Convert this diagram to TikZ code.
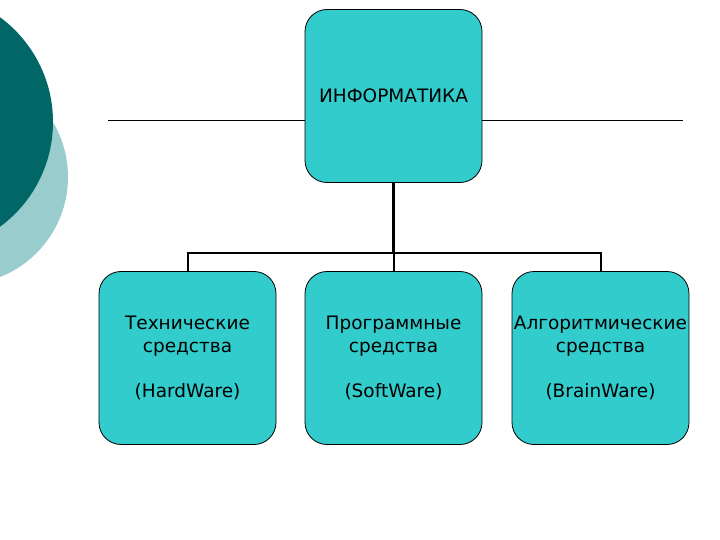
\documentclass[tikz,border=0pt]{standalone}
\usepackage{fontspec}
\setmainfont{DejaVu Sans}
\usepackage{tikz}
\definecolor{boxcol}{RGB}{51,204,204}
\definecolor{darkteal}{RGB}{0,102,102}
\definecolor{lightteal}{RGB}{153,204,204}

\begin{document}
\begin{tikzpicture}[x=1pt,y=-1pt,
  blok/.style={draw=black,line width=0.8pt,fill=boxcol,rounded corners=22pt,
    minimum width=177pt,minimum height=173pt,align=center,inner sep=0pt,
    font=\fontsize{18.5}{22.5}\selectfont},
  link/.style={line width=2pt}]
\useasboundingbox (0,0) rectangle (720,540);
\fill[white] (0,0) rectangle (720,540);
\fill[lightteal] (-39.5,177) circle (107.5pt);
\fill[darkteal] (-77,122) circle (130pt);
\node[blok] (info) at (393.5,96) {ИНФОРМАТИКА};
\node[blok] (hard) at (187.5,358) {Технические\\средства\\[23pt](HardWare)};
\node[blok] (soft) at (393.5,358) {Программные\\средства\\[23pt](SoftWare)};
\node[blok] (brain) at (600.5,358) {Алгоритмические\\средства\\[23pt](BrainWare)};
\coordinate (lend) at (108,120);
\coordinate (rend) at (683,120);
\draw[line width=0.8pt] (lend) -- (lend -| info.west);
\draw[line width=0.8pt] (rend -| info.east) -- (rend);
\coordinate (bus) at (393.5,253);
\draw[line width=2.6pt] (info.south) -- (bus);
\draw[link] (hard.north) |- (bus) -| (brain.north);
\draw[link] (bus) -- (soft.north);
\end{tikzpicture}
\end{document}
